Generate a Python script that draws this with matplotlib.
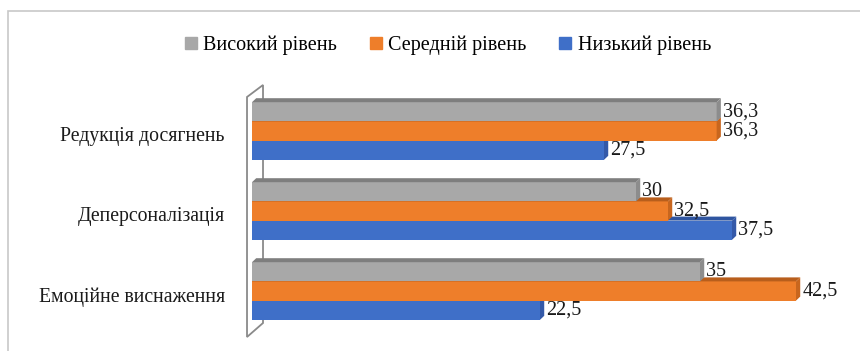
import numpy as np
import matplotlib
matplotlib.use("Agg")
import matplotlib.pyplot as plt
from matplotlib.patches import Polygon, Rectangle
from matplotlib.lines import Line2D

plt.rcParams['font.family'] = ['Liberation Serif', 'DejaVu Serif']

categories = ['Редукція досягнень', 'Деперсоналізація', 'Емоційне виснаження']
series_names = ['Високий рівень', 'Середній рівень', 'Низький рівень']
high = [36.3, 30, 35]
middle = [36.3, 32.5, 42.5]
low = [27.5, 37.5, 22.5]
labels_high = ['36,3', '30', '35']
labels_mid = ['36,3', '32,5', '42,5']
labels_low = ['27,5', '37,5', '22,5']

colors = ['#A8A8A8', '#EE7E2A', '#3F6FC8']
tops = ['#7E7E7E', '#B85E1C', '#2F55A0']
sides = ['#8C8C8C', '#C8661E', '#3459A8']

W, H = 860, 351
fig = plt.figure(figsize=(W / 100, H / 100), dpi=100)

# light frame around the chart area
fig.patches.append(Rectangle((8 / W, -0.1), 1.1, 1 - 11 / H + 0.1,
                             transform=fig.transFigure, fill=False,
                             edgecolor='#C8C8C8', lw=1.2))

ax = fig.add_axes([252 / W, 12 / H, 601.6 / W, 256 / H])
ax.set_xlim(0, 47)
ax.set_ylim(2.6, -0.6)
ax.axis('off')

y = np.arange(len(categories))
h = 0.24
dx, dy = 0.33, 0.05

# side wall of the 3d axis
wall = Polygon([(-0.39, -0.425), (0.86, -0.575), (0.86, 2.4), (-0.39, 2.575)],
               closed=True, fill=False, edgecolor='#8A8A8A', lw=1.3,
               clip_on=False, zorder=1)
ax.add_patch(wall)

series = [(high, labels_high), (middle, labels_mid), (low, labels_low)]
offsets = [-h, 0, h]

# bottom series first so the upper bars cover their top faces
for k in [2, 1, 0]:
    vals, labs = series[k]
    for i, v in enumerate(vals):
        yc = y[i] + offsets[k]
        y0, y1 = yc - h / 2, yc + h / 2
        z = 2 + (2 - k) * 0.3
        ax.barh(yc, v, height=h, color=colors[k], zorder=z)
        ax.add_patch(Polygon([(0, y0), (dx, y0 - dy), (v + dx, y0 - dy), (v, y0)],
                             closed=True, facecolor=tops[k], lw=0, zorder=z))
        ax.add_patch(Polygon([(v, y0), (v + dx, y0 - dy), (v + dx, y1 - dy), (v, y1)],
                             closed=True, facecolor=sides[k], lw=0, zorder=z))
        ax.text(v + dx + 0.15, yc, labs[i], va='center', ha='left',
                fontsize=14.5, color='#1a1a1a', zorder=10)

# category names sit a little below the group centre
for i, c in enumerate(categories):
    ax.annotate(c, xy=(0, y[i]), xycoords='data', xytext=(-27, -6),
                textcoords='offset pixels', ha='right', va='center',
                fontsize=14.2, color='#1a1a1a', annotation_clip=False)

handles = [Line2D([0], [0], marker='s', ls='', markersize=8,
                  markerfacecolor=colors[k], markeredgecolor=colors[k])
           for k in range(3)]
fig.legend(handles, series_names, loc='center', bbox_to_anchor=(0.52, 1 - 45 / H),
           ncol=3, frameon=False, fontsize=14.5, handlelength=0.7,
           handletextpad=0.25, columnspacing=1.6)

fig.savefig('out.png', dpi=100)
